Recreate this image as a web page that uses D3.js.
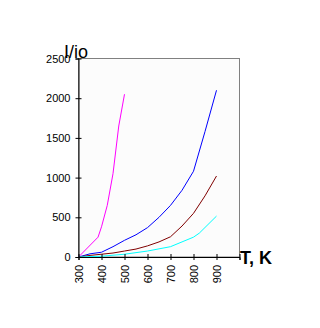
<!DOCTYPE html>
<html>
<head>
<meta charset="utf-8">
<script src="https://cdn.jsdelivr.net/npm/d3@7"></script>
<style>
  body { margin: 0; background: #fff; }
  svg { display: block; font-family: "Liberation Sans", Arial, sans-serif; }
</style>
</head>
<body>
<div id="chart"></div>
<script>
// temperature ticks and the four curves (T in K, I/io)
const xTicks = [300, 400, 500, 600, 700, 800, 900];
const yTicks = [0, 500, 1000, 1500, 2000, 2500];

const magentaT = [300, 385, 400, 425, 450, 475, 500];
const magentaI = [0, 250, 380, 650, 1050, 1650, 2050];

const blueT = [300, 350, 400, 450, 500, 550, 600, 650, 700, 750, 800, 850, 900];
const blueI = [0, 40, 60, 130, 210, 280, 370, 500, 650, 840, 1080, 1580, 2100];

const brownT = [300, 350, 400, 450, 500, 550, 600, 650, 700, 750, 800, 850, 900];
const brownI = [0, 20, 35, 50, 75, 100, 140, 190, 255, 390, 550, 770, 1020];

const cyanT = [300, 400, 500, 600, 700, 750, 800, 825, 900];
const cyanI = [0, 10, 35, 75, 130, 190, 250, 300, 515];

const series = [
  {t: magentaT, v: magentaI, color: "#ff00ff"},
  {t: blueT, v: blueI, color: "#0000ff"},
  {t: brownT, v: brownI, color: "#800000"},
  {t: cyanT, v: cyanI, color: "#00ffff"}
];

const width = 320, height = 328;
const plotLeft = 78.5, plotTop = 58.5, plotRight = 239.5, plotBottom = 257;

let svg = d3.select("#chart")
  .append("svg")
  .attr("width", width)
  .attr("height", height);

let x = d3.scaleLinear().domain([300, 1000]).range([plotLeft, plotRight]);
let y = d3.scaleLinear().domain([0, 2500]).range([plotBottom, plotTop]);

// plot frame
svg.append("rect")
  .attr("x", plotLeft)
  .attr("y", plotTop)
  .attr("width", plotRight - plotLeft)
  .attr("height", plotBottom - plotTop)
  .attr("fill", "#fcfcfc")
  .attr("stroke", "#808080")
  .attr("stroke-width", 1);

// curves
let line = d3.line().x(d => x(d[0])).y(d => y(d[1]));
series.forEach(s => {
  svg.append("path")
    .datum(s.t.map((t, i) => [t, s.v[i]]))
    .attr("fill", "none")
    .attr("stroke", s.color)
    .attr("stroke-width", 1)
    .attr("d", line);
});

// y axis
let yAxis = svg.append("g")
  .attr("transform", `translate(${plotLeft},0)`)
  .call(d3.axisLeft(y).tickValues(yTicks).tickSize(3).tickPadding(5).tickFormat(d3.format("d")));
yAxis.select(".domain").attr("stroke", "#000");
yAxis.selectAll(".tick line").attr("x2", 3).attr("x1", -3);
yAxis.selectAll("text").attr("font-size", 11).attr("fill", "#000")
  .attr("font-family", "Liberation Sans, Arial, sans-serif");

// x axis
let xAxis = svg.append("g")
  .attr("transform", `translate(0,${plotBottom})`)
  .call(d3.axisBottom(x).tickValues(xTicks.concat([1000])).tickSize(3).tickFormat(d => d === 1000 ? "" : String(d)));
xAxis.select(".domain").attr("stroke", "#000");
xAxis.selectAll(".tick line").attr("y1", -3).attr("y2", 3);
xAxis.selectAll("text")
  .attr("font-size", 11)
  .attr("fill", "#000")
  .attr("font-family", "Liberation Sans, Arial, sans-serif")
  .attr("text-anchor", "end")
  .attr("transform", "rotate(-90)")
  .attr("x", -8)
  .attr("y", 0)
  .attr("dy", "0.35em");

// axis titles
svg.append("text")
  .attr("x", 64)
  .attr("y", 58)
  .attr("font-size", 18)
  .attr("font-family", "Liberation Sans, Arial, sans-serif")
  .text("I/io");

svg.append("text")
  .attr("x", 240)
  .attr("y", 264)
  .attr("font-size", 18)
  .attr("font-weight", "bold")
  .attr("font-family", "Liberation Sans, Arial, sans-serif")
  .text("T, K");
</script>
</body>
</html>
